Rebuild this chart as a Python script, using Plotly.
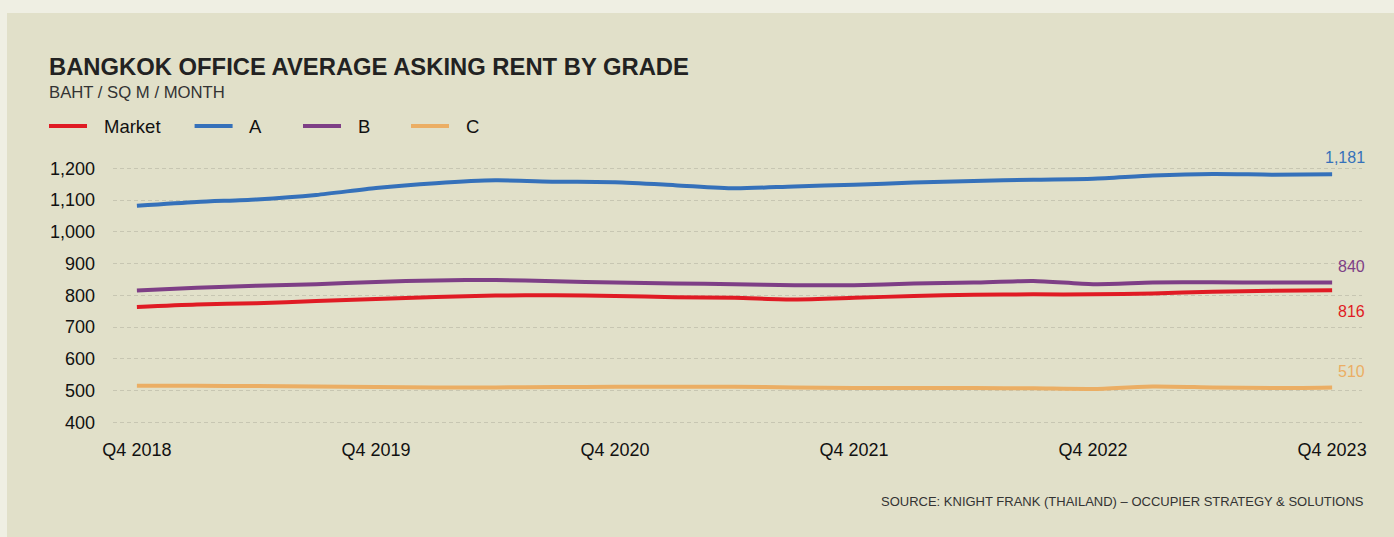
import plotly.graph_objects as go

# ---------------- data ----------------
quarters = ["Q4 2018", "Q1 2019", "Q2 2019", "Q3 2019", "Q4 2019",
            "Q1 2020", "Q2 2020", "Q3 2020", "Q4 2020",
            "Q1 2021", "Q2 2021", "Q3 2021", "Q4 2021",
            "Q1 2022", "Q2 2022", "Q3 2022", "Q4 2022",
            "Q1 2023", "Q2 2023", "Q3 2023", "Q4 2023"]
tick_labels = ["Q4 2018", "Q4 2019", "Q4 2020", "Q4 2021", "Q4 2022", "Q4 2023"]

market = [763, 771, 775, 782, 788, 795, 799, 800, 798, 794, 792, 787,
          792, 798, 802, 803, 803, 806, 811, 814, 816]
grade_a = [1082, 1094, 1102, 1116, 1138, 1153, 1162, 1158, 1156, 1147, 1137,
           1143, 1148, 1155, 1160, 1164, 1167, 1177, 1182, 1180, 1181]
grade_b = [815, 824, 830, 835, 842, 847, 848, 844, 840, 837, 835, 832,
           832, 837, 840, 845, 835, 840, 841, 840, 840]
grade_c = [515, 515, 514, 513, 511, 510, 510, 511, 512, 512, 512, 510,
           508, 508, 508, 507, 505, 513, 510, 508, 510]

series_names = ["Market", "A", "B", "C"]
series_values = [market, grade_a, grade_b, grade_c]
colors = ["#e01b24", "#3571ba", "#7e3f86", "#ebae64"]
end_label_shift = [-21, 17, 16, 16]

title = "BANGKOK OFFICE AVERAGE ASKING RENT BY GRADE"
subtitle = "BAHT / SQ M / MONTH"
source = "SOURCE: KNIGHT FRANK (THAILAND) \u2013 OCCUPIER STRATEGY & SOLUTIONS"

# ---------------- layout geometry ----------------
W, H = 1394, 537
L, R, T, B = 113, 1362, 165, 425
PW, PH = R - L, B - T


def px(x):
    return (x - L) / PW


def py(y):
    return (B - y) / PH


FONT = "Liberation Sans, Arial, sans-serif"
CARD = "#e1e0c9"
OUTER = "#efefe3"

fig = go.Figure()
for name, vals, col in zip(series_names, series_values, colors):
    fig.add_trace(go.Scatter(
        x=quarters, y=vals, name=name, mode="lines",
        line=dict(color=col, width=4, shape="spline", smoothing=0.7),
        showlegend=False, hoverinfo="x+y+name"))

annotations = []
shapes = []

# end-of-line value labels
for vals, col, sh in zip(series_values, colors, end_label_shift):
    annotations.append(dict(
        x=quarters[-1], y=vals[-1], xref="x", yref="y",
        text=f"{vals[-1]:,}", showarrow=False,
        xanchor="right", yanchor="middle", xshift=35, yshift=sh,
        font=dict(family=FONT, size=16, color=col)))

# title / subtitle / source
annotations.append(dict(x=px(47), y=py(66), xref="paper", yref="paper",
                        text=f"<b>{title}</b>", showarrow=False,
                        xanchor="left", yanchor="middle",
                        font=dict(family=FONT, size=23.8, color="#222222")))
annotations.append(dict(x=px(47), y=py(92), xref="paper", yref="paper",
                        text=subtitle, showarrow=False,
                        xanchor="left", yanchor="middle",
                        font=dict(family=FONT, size=16.7, color="#333333")))
annotations.append(dict(x=px(1366), y=py(501), xref="paper", yref="paper",
                        text=source, showarrow=False,
                        xanchor="right", yanchor="middle",
                        font=dict(family=FONT, size=13, color="#333333")))

# custom legend
legend_x = [49, 194.6, 303, 411]
for name, col, lx in zip(series_names, colors, legend_x):
    shapes.append(dict(type="line", xref="paper", yref="paper",
                       x0=px(lx), x1=px(lx + 38), y0=py(126), y1=py(126),
                       line=dict(color=col, width=4)))
    annotations.append(dict(x=px(lx + 52.5), y=py(126), xref="paper", yref="paper",
                            text=name, showarrow=False,
                            xanchor="left", yanchor="middle",
                            font=dict(family=FONT, size=18.5, color="#111111")))

# outer light frame (top and left strips)
shapes.append(dict(type="rect", xref="paper", yref="paper", layer="below",
                   x0=px(0), x1=px(W), y0=py(13), y1=py(0),
                   fillcolor=OUTER, line=dict(width=0)))
shapes.append(dict(type="rect", xref="paper", yref="paper", layer="below",
                   x0=px(0), x1=px(7), y0=py(H), y1=py(0),
                   fillcolor=OUTER, line=dict(width=0)))

fig.update_layout(
    width=W, height=H,
    margin=dict(l=L, r=W - R, t=T, b=H - B, pad=0),
    paper_bgcolor=CARD, plot_bgcolor=CARD,
    font=dict(family=FONT, color="#111111"),
    showlegend=False,
    annotations=annotations, shapes=shapes,
    xaxis=dict(type="category", categoryorder="array", categoryarray=quarters,
               range=[-0.4, 20.5], tickmode="array", tickvals=tick_labels,
               ticktext=tick_labels, showgrid=False, zeroline=False,
               showline=False, ticks="", ticklabelstandoff=12,
               tickfont=dict(family=FONT, size=18, color="#111111")),
    yaxis=dict(range=[391.5, 1210.4], tickvals=[400, 500, 600, 700, 800, 900, 1000, 1100, 1200],
               tickformat=",d", showgrid=True, gridcolor="#c7c6b2", gridwidth=1,
               griddash="4px,3px", zeroline=False, showline=False, ticks="",
               ticklabelstandoff=17,
               tickfont=dict(family=FONT, size=18, color="#111111")),
)

fig.write_html("out.html", config={"displayModeBar": False},
               post_script="document.body.style.margin='0';document.body.style.overflow='hidden';")
